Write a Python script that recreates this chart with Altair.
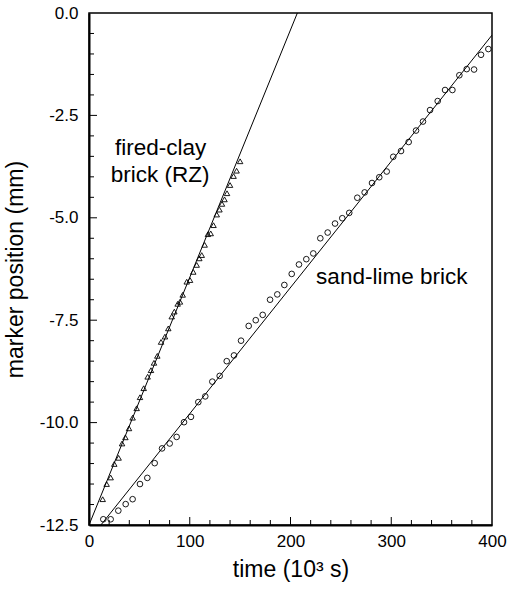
import altair as alt
import pandas as pd

# fired-clay brick (RZ) marker positions (time in 10^3 s, position in mm)
clay_t = [13.6, 17.5, 21.5, 25.1, 29.4, 32.8, 36.1, 39.7, 43.3, 47.3, 50.6, 54.3,
          58.2, 61.5, 64.5, 67.8, 71.5, 75.4, 78.7, 82.1, 84.7, 88.0, 90.3, 93.0,
          97.0, 100.3, 103.5, 106.9, 109.5, 111.9, 114.8, 118.0, 120.8, 123.6,
          126.8, 129.5, 132.0, 134.5, 137.0, 140.0, 143.5, 146.5, 150.0]
clay_z = [-11.87, -11.50, -11.34, -11.01, -10.86, -10.51, -10.36, -10.14, -9.88, -9.65,
          -9.38, -9.16, -8.88, -8.72, -8.54, -8.37, -8.03, -7.90, -7.70, -7.41, -7.29,
          -7.10, -7.05, -6.88, -6.56, -6.52, -6.32, -6.15, -5.99, -5.91, -5.66, -5.40,
          -5.38, -5.18, -4.92, -4.80, -4.66, -4.55, -4.40, -4.20, -3.98, -3.85, -3.62]

# sand-lime brick marker positions
lime_t = [14.2, 21.5, 29.1, 36.4, 43.3, 50.6, 57.9, 65.2, 72.5, 80.1, 87.0, 94.3,
          101.2, 108.5, 115.4, 122.4, 129.7, 136.7, 143.9, 150.9, 158.5, 165.5,
          172.4, 179.7, 186.9, 193.9, 201.2, 208.4, 215.7, 222.6, 229.6, 236.9,
          244.2, 251.4, 258.3, 266.3, 273.6, 280.9, 288.1, 295.5, 302.0, 309.7,
          317.3, 324.6, 331.5, 338.5, 346.1, 353.4, 360.7, 367.6, 374.9, 382.2,
          389.1, 396.4]
lime_z = [-12.36, -12.36, -12.15, -11.99, -11.87, -11.50, -11.35, -10.99, -10.63,
          -10.51, -10.35, -9.99, -9.86, -9.50, -9.36, -9.00, -8.86, -8.50, -8.36,
          -8.00, -7.64, -7.50, -7.37, -7.00, -6.87, -6.64, -6.37, -6.14, -6.01,
          -5.87, -5.50, -5.36, -5.14, -5.01, -4.88, -4.51, -4.38, -4.15, -4.01,
          -3.87, -3.51, -3.37, -3.15, -2.87, -2.65, -2.37, -2.15, -1.88, -1.88,
          -1.52, -1.37, -1.38, -1.02, -0.88]

# fitted straight lines
clay_fit_t = [0.0, 206.8]
clay_fit_z = [-12.5, 0.0]
lime_fit_t = [11.8, 400.0]
lime_fit_z = [-12.5, -0.54]

# annotations
label_text = ["fired-clay", "brick (RZ)", "sand-lime brick"]
label_t = [71.0, 70.5, 300.5]
label_z = [-3.47, -4.12, -6.62]

# axis ticks
x_labels = [0, 100, 200, 300, 400]
y_labels = [0.0, -2.5, -5.0, -7.5, -10.0, -12.5]
x_major_ticks = [100, 200, 300]
x_minor_ticks = [20, 40, 60, 80, 120, 140, 160, 180, 220, 240, 260, 280, 320, 340, 360, 380]
y_major_ticks = [-2.5, -5.0, -7.5, -10.0]
y_minor_ticks = [-0.5, -1.0, -1.5, -2.0, -3.0, -3.5, -4.0, -4.5, -5.5, -6.0, -6.5, -7.0,
                 -8.0, -8.5, -9.0, -9.5, -10.5, -11.0, -11.5, -12.0]

FONT = "Liberation Sans"
W, H = 403, 512

xs = alt.Scale(domain=[0, 400], nice=False, zero=False)
ys = alt.Scale(domain=[-12.5, 0], nice=False, zero=False)

xa = alt.Axis(values=x_labels, format="d", ticks=False, grid=False, labelPadding=8,
              labelFontSize=17, labelFont=FONT, labelColor="black", labelOverlap=False,
              labelFlush=False, title="time (10³ s)", titleFont=FONT, titleFontSize=23,
              titleFontWeight="normal", titleColor="black", titlePadding=9,
              domainColor="black", domainWidth=2)
ya = alt.Axis(values=y_labels, ticks=False, grid=False, labelPadding=11,
              labelExpr="replace(format(datum.value, '.1f'), '\u2212', '-')",
              labelFontSize=17, labelFont=FONT, labelColor="black", labelOverlap=False,
              labelFlush=False, title="marker position (mm)", titleFont=FONT,
              titleFontSize=23, titleFontWeight="normal", titleColor="black",
              titlePadding=12, domainColor="black", domainWidth=2)

X = alt.X("t:Q", scale=xs, axis=xa)
Y = alt.Y("z:Q", scale=ys, axis=ya)

clay_df = pd.DataFrame({"t": clay_t, "z": clay_z})
lime_df = pd.DataFrame({"t": lime_t, "z": lime_z})
clay_fit = pd.DataFrame({"t": clay_fit_t, "z": clay_fit_z})
lime_fit = pd.DataFrame({"t": lime_fit_t, "z": lime_fit_z})
labels = pd.DataFrame({"t": label_t, "z": label_z, "label": label_text})

lines = (
    alt.Chart(clay_fit).mark_line(color="black", strokeWidth=1, clip=True).encode(x=X, y=Y)
    + alt.Chart(lime_fit).mark_line(color="black", strokeWidth=1, clip=True).encode(x=X, y=Y)
)

tri = alt.Chart(clay_df).mark_point(shape="triangle-up", filled=False, color="black",
                                    size=30, strokeWidth=0.9, opacity=1).encode(x=X, y=Y)
circ = alt.Chart(lime_df).mark_point(shape="circle", filled=False, color="black",
                                     size=32, strokeWidth=0.9, opacity=1).encode(x=X, y=Y)

txt = alt.Chart(labels).mark_text(font=FONT, fontSize=22.5, color="black", align="center",
                                  baseline="alphabetic").encode(x=X, y=Y, text="label:N")

xmaj = alt.Chart(pd.DataFrame({"t": x_major_ticks})).mark_rule(color="black", strokeWidth=1).encode(
    x=X, y=alt.value(H), y2=alt.value(H - 8))
xmin = alt.Chart(pd.DataFrame({"t": x_minor_ticks})).mark_rule(color="black", strokeWidth=1).encode(
    x=X, y=alt.value(H), y2=alt.value(H - 5))
ymaj = alt.Chart(pd.DataFrame({"z": y_major_ticks})).mark_rule(color="black", strokeWidth=1).encode(
    y=Y, x=alt.value(0), x2=alt.value(8))
ymin = alt.Chart(pd.DataFrame({"z": y_minor_ticks})).mark_rule(color="black", strokeWidth=1).encode(
    y=Y, x=alt.value(0), x2=alt.value(5))

chart = alt.layer(lines, tri, circ, txt, xmaj, xmin, ymaj, ymin).properties(
    width=W, height=H,
    autosize=alt.AutoSizeParams(type="none"),
    padding={"left": 89, "top": 13, "right": 15, "bottom": 65},
    background="white",
).configure_view(stroke="black", strokeWidth=1.5)

chart.save("out.html", embed_options={"renderer": "svg", "actions": False})
